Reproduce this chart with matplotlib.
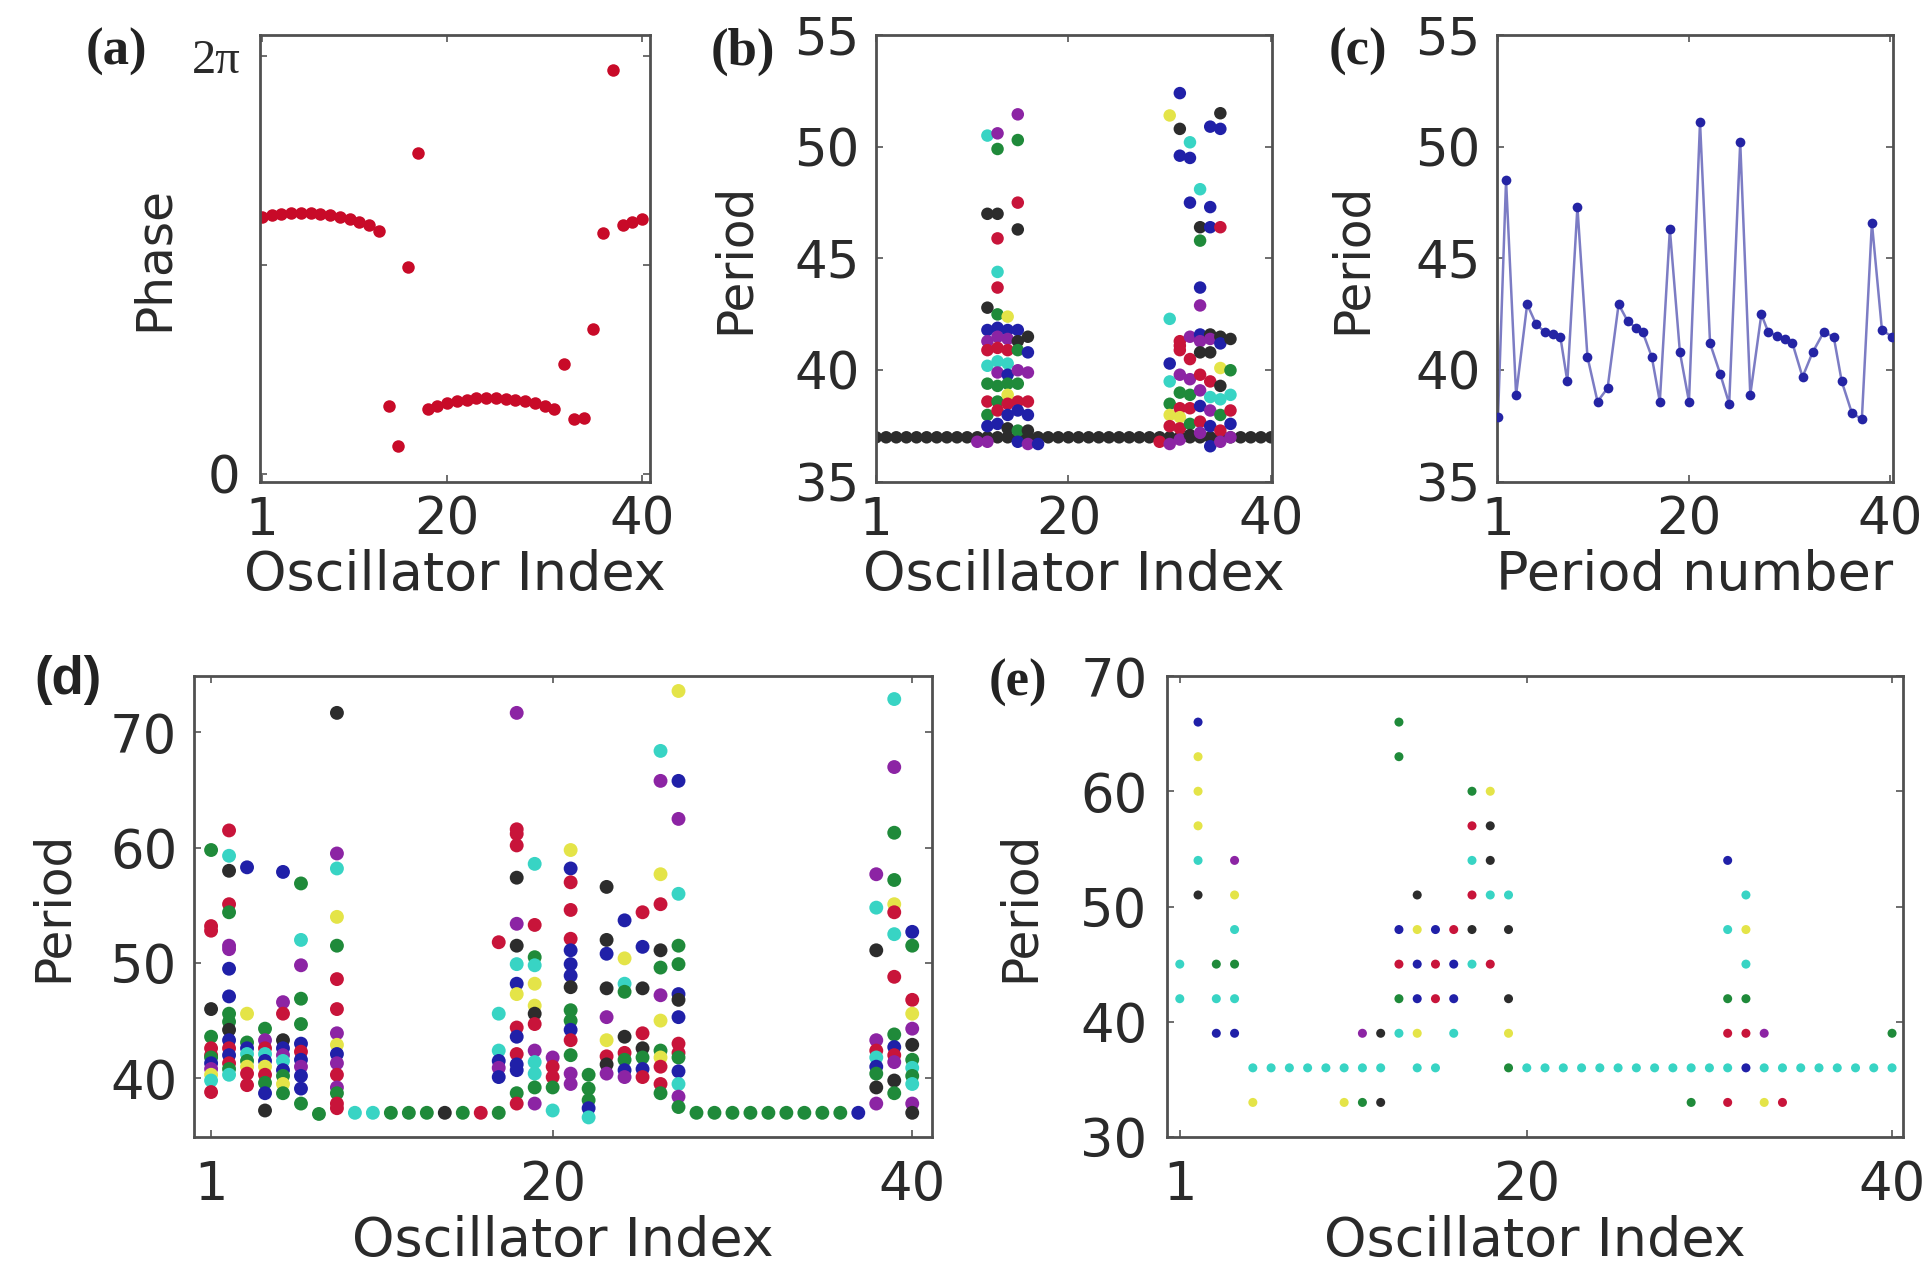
import numpy as np
import matplotlib
matplotlib.use('Agg')
import matplotlib.pyplot as plt

#--------------- data ----------------------------------------#
# (a) phase snapshot
a_osc = list(range(1, 41))
a_phase = [3.86, 3.89, 3.91, 3.92, 3.92, 3.92, 3.91, 3.89, 3.86, 3.83, 3.79, 3.74, 3.66,
           1.03, 0.42, 3.11, 4.83,
           0.97, 1.03, 1.07, 1.10, 1.12, 1.14, 1.14, 1.14, 1.13, 1.12, 1.10, 1.07, 1.03, 0.97,
           1.65, 0.82, 0.84, 2.18, 3.63, 6.08, 3.74, 3.79, 3.83]

# (b) periods of every oscillator: synchronized baseline + two clusters
b_base_osc = list(range(1, 41))
b_base = [37.0] * 40
b_osc = [11, 12, 13, 14, 15, 16, 17, 29, 30, 31, 32, 33, 34, 35, 36]
b_per = [
    [36.8],
    [50.5, 47.0, 42.8, 41.8, 41.3, 40.9, 40.2, 39.4, 38.6, 38.0, 37.5, 36.8],
    [50.6, 49.9, 47.0, 45.9, 44.4, 43.7, 42.5, 41.9, 41.5, 41.0, 40.4, 39.9, 39.3, 38.6, 38.2, 37.6],
    [42.4, 41.8, 41.4, 40.9, 40.3, 39.8, 39.4, 38.9, 38.5, 38.0, 37.4],
    [51.45, 50.3, 47.5, 46.3, 41.8, 41.3, 40.9, 40.0, 39.4, 38.6, 38.2, 37.3, 36.8],
    [41.5, 40.8, 39.9, 38.6, 38.0, 37.3, 36.7],
    [36.7],
    [36.8],
    [51.4, 42.3, 40.3, 39.5, 38.5, 38.0, 37.5, 36.7],
    [52.4, 50.8, 49.6, 41.3, 41.1, 40.9, 39.8, 39.0, 38.3, 37.9, 37.4, 36.9],
    [50.2, 49.5, 47.5, 41.5, 40.5, 39.6, 38.9, 38.3, 37.6, 37.1],
    [48.1, 46.4, 45.8, 43.7, 42.9, 41.6, 41.3, 40.8, 39.8, 39.1, 38.4, 37.7, 37.2],
    [50.9, 47.3, 46.4, 41.6, 41.4, 40.8, 39.5, 38.8, 38.2, 37.5, 36.6],
    [51.5, 50.8, 46.4, 41.5, 41.2, 40.1, 39.3, 38.7, 38.0, 37.3, 36.8],
    [41.4, 40.0, 38.9, 38.2, 37.6, 37.0],
]
b_col = ['m', 'ckkbmrcgrgbm', 'mgkrcrgbmrcmggrb', 'ybmrcbgyrbk', 'mgrkbkgmgrbgb', 'kbmrbkm', 'b',
         'r', 'ycbcgyrm', 'bkbrrrmgryrm', 'cbbmrmgrgk', 'ckgbmbmkrmbrm', 'bbbkmkrcmbb',
         'kbrkbykcgrm', 'kgcrbm']

# (c) successive periods of one oscillator
c_num = [1.0, 1.8, 2.8, 3.9, 4.8, 5.7, 6.5, 7.2, 7.9, 8.9, 9.9, 10.9, 11.9, 13.0, 13.9, 14.7,
         15.4, 16.3, 17.1, 18.1, 19.1, 20.0, 21.1, 22.1, 23.1, 24.0, 25.1, 26.1, 27.2, 27.9,
         28.8, 29.6, 30.3, 31.3, 32.3, 33.4, 34.4, 35.2, 36.2, 37.2, 38.2, 39.2, 40.2]
c_per = [37.9, 48.5, 38.9, 42.95, 42.05, 41.7, 41.6, 41.5, 39.5, 47.3, 40.6, 38.6, 39.2, 42.95,
         42.2, 41.9, 41.7, 40.6, 38.6, 46.3, 40.8, 38.6, 51.1, 41.2, 39.85, 38.5, 50.2, 38.9,
         42.5, 41.7, 41.55, 41.4, 41.2, 39.7, 40.8, 41.7, 41.5, 39.5, 38.1, 37.8, 46.6, 41.8, 41.5]

# (d) periods of every oscillator
d_osc = list(range(1, 41))
d_per = [
    [59.8, 53.2, 52.8, 46.0, 43.6, 42.6, 42.0, 41.8, 41.3, 40.8, 40.3, 39.8, 38.8],
    [61.5, 59.3, 58.0, 55.1, 54.4, 51.5, 51.2, 49.5, 47.1, 45.6, 44.9, 44.2, 43.3, 42.6, 42.0, 41.3, 40.8, 40.3],
    [58.3, 45.6, 43.1, 42.6, 42.1, 41.5, 41.0, 40.4, 39.4],
    [44.3, 43.3, 42.6, 42.1, 41.5, 41.0, 40.3, 39.6, 38.7, 37.2],
    [57.9, 46.6, 45.6, 43.3, 42.6, 42.0, 41.5, 40.7, 40.2, 39.5, 38.7],
    [56.9, 52.0, 49.8, 46.9, 44.7, 43.0, 42.3, 41.6, 41.0, 40.2, 39.1, 37.8],
    [36.9],
    [71.7, 59.5, 58.2, 54.0, 51.5, 48.6, 46.0, 43.9, 42.9, 42.1, 41.3, 40.3, 39.2, 38.7, 37.8, 37.4],
    [37.0], [37.0], [37.0], [37.0], [37.0], [37.0], [37.0], [37.0],
    [51.8, 45.6, 42.4, 41.5, 40.9, 40.1, 37.0],
    [71.7, 61.6, 61.2, 60.2, 57.4, 53.4, 51.5, 49.9, 48.2, 47.3, 44.4, 43.6, 42.1, 41.2, 40.7, 38.7, 37.8],
    [58.6, 53.3, 50.5, 49.8, 48.2, 46.3, 45.6, 44.7, 42.4, 41.4, 40.4, 39.2, 37.8],
    [41.8, 41.0, 40.1, 39.2, 37.2],
    [59.8, 58.2, 57.0, 54.6, 52.1, 51.1, 49.9, 48.9, 47.9, 45.9, 45.0, 44.2, 43.3, 42.0, 40.4, 39.5],
    [40.3, 39.1, 38.1, 37.4, 36.6],
    [56.6, 52.0, 50.8, 47.8, 45.3, 43.3, 41.9, 41.2, 40.4],
    [53.7, 50.4, 48.2, 47.5, 43.6, 42.2, 41.6, 40.7, 40.1],
    [54.4, 51.4, 47.8, 43.9, 42.6, 41.8, 40.8, 40.1],
    [68.4, 65.8, 57.7, 55.1, 51.1, 49.6, 47.2, 45.0, 42.4, 41.8, 41.0, 39.5, 38.7],
    [73.6, 65.8, 62.5, 56.0, 51.5, 49.9, 47.3, 46.8, 45.3, 43.0, 42.2, 41.8, 40.6, 39.5, 38.4, 37.5],
    [37.0], [37.0], [37.0], [37.0], [37.0], [37.0], [37.0], [37.0], [37.0], [37.0],
    [57.7, 54.8, 51.1, 43.3, 42.4, 41.8, 41.0, 40.4, 39.2, 37.8],
    [72.9, 67.0, 61.3, 57.2, 55.1, 54.4, 52.5, 48.8, 43.8, 42.7, 42.0, 41.4, 39.8, 38.7],
    [52.7, 51.5, 46.8, 45.6, 44.3, 42.9, 41.6, 40.9, 40.2, 39.5, 37.8, 37.0],
]
d_col = ['grrkgrrgbmycr', 'rckrgmmbbggkbrbrgc', 'bygbcgyrr', 'gmrcbyrgbk', 'bmrkbmcbgyg',
         'gcmggbrbmbbg', 'g', 'kmcygrrmybmrmgrr',
         'c', 'c', 'g', 'g', 'g', 'k', 'g', 'r',
         'rccbmbg', 'mrrrkmkcbyrbrbbgr', 'crgcyykrmccgm', 'mrrgc', 'ybrrrbbbkggbrgmm', 'gggbc',
         'kkbkmyrkm', 'bycgkrgbm', 'rbkrkgbr', 'cmyrkgmygyrrg', 'ybmcggbkbrrgbcmg',
         'g', 'g', 'g', 'g', 'g', 'g', 'g', 'g', 'g', 'b',
         'mckmrcbgkm', 'cmggyrcrgbrmkg', 'bgrymkgcgcmk']

# (e) periods of every oscillator
e_osc = list(range(1, 41))
e_per = [
    [45, 42], [66, 63, 60, 57, 54, 51], [45, 42, 39], [54, 51, 48, 45, 42, 39],
    [36, 33], [36], [36], [36], [36], [36, 33], [39, 36, 33], [39, 36, 33],
    [66, 63, 48, 45, 42, 39], [51, 48, 45, 42, 39, 36], [48, 45, 42, 36], [48, 45, 42, 39],
    [60, 57, 54, 51, 48, 45], [60, 57, 54, 51, 45], [51, 48, 42, 39, 36],
    [36], [36], [36], [36], [36], [36], [36], [36], [36],
    [36, 33], [36], [54, 48, 42, 39, 36, 33], [51, 48, 45, 42, 39, 36], [39, 36, 33], [36, 33],
    [36], [36], [36], [36], [36], [39, 36],
]
e_col = ['cc', 'byyyck', 'gcb', 'mycgcb', 'cy', 'c', 'c', 'c', 'c', 'cy', 'mcg', 'kck',
         'ggbrgc', 'kybbyc', 'brrc', 'rbbc', 'grcrkc', 'ykkcr', 'ckkyg',
         'c', 'c', 'c', 'c', 'c', 'c', 'c', 'c', 'c',
         'cg', 'c', 'bcgrcr', 'cycgrb', 'mcy', 'cr', 'c', 'c', 'c', 'c', 'c', 'gc']

#--------------- style -----------------#
COL = {'r': '#c8143a', 'g': '#1f8a3a', 'b': '#2020a8', 'c': '#38d4c4',
       'm': '#8c24a4', 'y': '#e4e448', 'k': '#2c2c2c'}
W, H = 1927, 1264
plt.rcParams['font.family'] = 'DejaVu Sans'
fig = plt.figure(figsize=(W / 100, H / 100), dpi=100, facecolor='white')


def px_axes(left, top, right, bottom):
    return fig.add_axes([left / W, 1 - bottom / H, (right - left) / W, (bottom - top) / H])


def style(ax, box, xl, yl, xlab_y, ylab_x, xpad, ypad, size=37):
    left, top, right, bottom = box
    ax.tick_params(direction='in', length=5, width=1.2, top=True, right=True,
                   labelsize=size, colors='#555555', labelcolor='#2a2a2a')
    ax.tick_params(axis='x', pad=xpad)
    ax.tick_params(axis='y', pad=ypad)
    for s in ax.spines.values():
        s.set_color('#505050')
        s.set_linewidth(2)
    ax.set_xlabel(xl, fontsize=39, color='#2a2a2a', va='center')
    ax.set_ylabel(yl, fontsize=35, color='#2a2a2a', va='center')
    ax.xaxis.set_label_coords(0.5, (bottom - xlab_y) / (bottom - top))
    ax.yaxis.set_label_coords((ylab_x - left) / (right - left), 0.5)


def scatter_cols(ax, osc, per, col, ms):
    xs, ys, cs = [], [], []
    for o, ps, cc in zip(osc, per, col):
        for p, c in zip(ps, cc):
            xs.append(o)
            ys.append(p)
            cs.append(COL[c])
    ax.scatter(xs, ys, s=ms ** 2, c=cs, edgecolors='none', zorder=3)


#--------------- (a) -----------------#
box_a = (260, 35, 650, 482)
ax = px_axes(*box_a)
ax.plot(a_osc, a_phase, 'o', color='#c80a28', ms=9, mec='none')
ax.set_xlim(0.8, 40.8)
ax.set_ylim(-0.12, 6.6)
ax.set_xticks([1, 20, 40])
ax.set_yticks([0, np.pi, 2 * np.pi])
ax.set_yticklabels(['0', '', '2\u03c0'])
style(ax, box_a, 'Oscillator Index', 'Phase', 575, 154, 10, 14)
ax.get_yticklabels()[2].set_fontfamily('Liberation Serif')
ax.get_yticklabels()[2].set_fontsize(35)

#--------------- (b) -----------------#
box_b = (876, 35, 1272, 482)
ax = px_axes(*box_b)
ax.scatter(b_base_osc, b_base, s=9 ** 2, c=COL['k'], edgecolors='none', zorder=2)
scatter_cols(ax, b_osc, b_per, b_col, 9)
ax.set_xlim(1, 40.1)
ax.set_ylim(35, 55)
ax.set_xticks([1, 20, 40])
ax.set_yticks([35, 40, 45, 50, 55])
style(ax, box_b, 'Oscillator Index', 'Period', 575, 735, 10, 12)

#--------------- (c) -----------------#
box_c = (1497, 35, 1893, 482)
ax = px_axes(*box_c)
ax.plot(c_num, c_per, '-', color='#7c7cc4', lw=1.8, zorder=2)
ax.plot(c_num, c_per, 'o', color='#2424a4', ms=7, mec='none', zorder=3)
ax.set_xlim(0.9, 40.3)
ax.set_ylim(35, 55)
ax.set_xticks([1, 20, 40])
ax.set_yticks([35, 40, 45, 50, 55])
style(ax, box_c, 'Period number', 'Period', 575, 1352, 10, 12)

#--------------- (d) -----------------#
box_d = (194, 676, 932, 1137)
ax = px_axes(*box_d)
scatter_cols(ax, d_osc, d_per, d_col, 10)
ax.set_xlim(0.05, 41.1)
ax.set_ylim(34.9, 74.9)
ax.set_xticks([1, 20, 40])
ax.set_yticks([40, 50, 60, 70])
style(ax, box_d, 'Oscillator Index', 'Period', 1241, 53, 16, 12, size=38)

#--------------- (e) -----------------#
box_e = (1167, 676, 1903, 1137)
ax = px_axes(*box_e)
scatter_cols(ax, e_osc, e_per, e_col, 6.5)
ax.set_xlim(0.3, 40.6)
ax.set_ylim(30, 70)
ax.set_xticks([1, 20, 40])
ax.set_yticks([30, 40, 50, 60, 70])
style(ax, box_e, 'Oscillator Index', 'Period', 1241, 1020, 16, 14, size=38)

#--------------- panel letters -----------------#
for lab, x, y, fam in [('(a)', 116, 52, 'Liberation Serif'), ('(b)', 743, 52, 'Liberation Serif'),
                       ('(c)', 1358, 52, 'Liberation Serif'), ('(d)', 68, 680, 'Liberation Sans'),
                       ('(e)', 1018, 683, 'Liberation Serif')]:
    fig.text(x / W, 1 - y / H, lab, fontsize=38, fontweight='bold', family=fam,
             color='#222222', ha='center', va='center')

plt.savefig('out.png', dpi=100, facecolor='white')
